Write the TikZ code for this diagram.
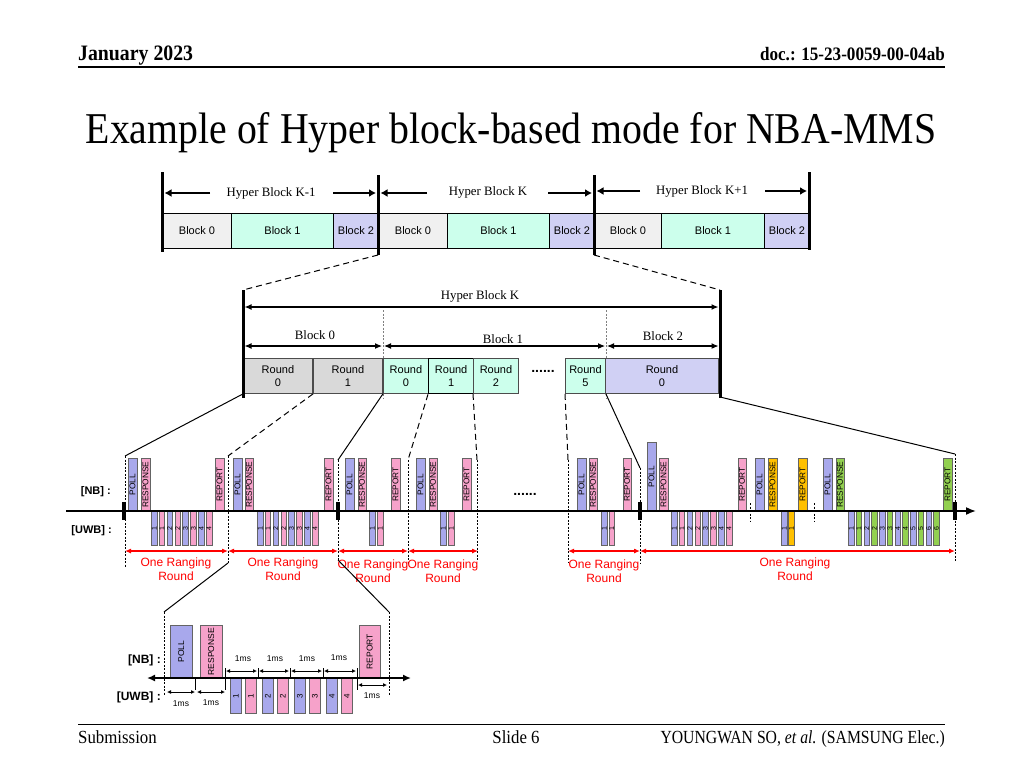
\documentclass[tikz,border=0pt]{standalone}
\usepackage{fontspec}
\setmainfont{Liberation Serif}
\setsansfont{Liberation Sans}
\usetikzlibrary{arrows.meta}
\definecolor{cpoll}{RGB}{168,168,236}
\definecolor{cpink}{RGB}{246,162,202}
\definecolor{cyel}{RGB}{255,192,0}
\definecolor{cgrn}{RGB}{146,208,80}
\definecolor{cb0}{RGB}{240,240,240}
\definecolor{cb1}{RGB}{204,255,236}
\definecolor{cb2}{RGB}{208,208,244}
\definecolor{crg}{RGB}{217,217,217}
\definecolor{cbord}{RGB}{100,100,100}
\definecolor{cred}{RGB}{255,0,0}
\newcommand\myfs[2]{\fontsize{#1}{#2}\selectfont}
\newcommand\nbb[5]{%
  \node[nbbox,fill=#4,minimum height={(511-#3)*1pt}] (#1) at (#2,511) {};
  \node[nbtxt] at (#1.center) {#5};}
\newcommand\uwbgrp[5]{%
  \foreach \k in {0,...,#3}{%
    \pgfmathsetmacro\uwx{#2+\k*#5}%
    \pgfmathtruncatemacro\uwl{\k/2+1}%
    \ifodd\k\relax \def\uwc{#4}\else \def\uwc{cpoll}\fi
    \node[uwbbox,fill=\uwc] (#1-\k) at (\uwx,511) {};
    \node[uwbtxt] at (#1-\k.center) {\uwl};
  }}
\begin{document}
\begin{tikzpicture}[x=1pt,y=-1pt,
 tblock/.style={draw=black,line width=0.9pt,anchor=north west,minimum height=35pt,inner sep=0pt,font=\sffamily\myfs{11}{13}},
 rnd/.style={draw=black!70,line width=0.9pt,anchor=north west,minimum height=35pt,inner sep=0pt,align=center,font=\sffamily\myfs{11}{13}},
 serif/.style={inner sep=0pt,font=\myfs{12.8}{14}},
 vbar/.style={line width=3pt},
 harrow/.style={line width=2.6pt,-{Latex[length=7pt,width=8pt]}},
 darrow/.style={line width=1.3pt,{Latex[length=7pt,width=6pt]}-{Latex[length=7pt,width=6pt]}},
 cdash/.style={line width=1pt,dash pattern=on 6pt off 4pt},
 csolid/.style={line width=1pt},
 vdash/.style={line width=0.6pt,dash pattern=on 2pt off 1.5pt},
 gdash/.style={line width=0.6pt,dash pattern=on 2pt off 1.5pt,black!50},
 nbbox/.style={draw=cbord,line width=0.6pt,inner sep=0pt,anchor=south west,minimum width=8.5pt},
 nbtxt/.style={rotate=90,inner sep=0pt,font=\sffamily\myfs{8.3}{9}},
 uwbbox/.style={draw=cbord,line width=0.6pt,inner sep=0pt,anchor=north west,minimum width=5.6pt,minimum height=34pt},
 uwbtxt/.style={rotate=90,inner sep=0pt,font=\sffamily\myfs{7}{8}},
 tmark/.style={fill=black,inner sep=0pt,minimum width=4pt,minimum height=18pt},
 rarr/.style={cred,line width=1.1pt,{Latex[length=6pt,width=5pt]}-{Latex[length=6pt,width=5pt]}},
 rtxt/.style={text=cred,align=center,inner sep=0pt,font=\sffamily\myfs{12}{13.5}},
 lab/.style={inner sep=0pt,font=\sffamily\bfseries\myfs{11}{13},anchor=east},
 msarr/.style={line width=0.9pt,{Latex[length=4pt,width=4pt]}-{Latex[length=4pt,width=4pt]}},
 mstxt/.style={inner sep=0pt,font=\sffamily\myfs{8.5}{9}},
 tk/.style={line width=0.6pt},
]
\useasboundingbox (0,0) rectangle (1024,768);

% ---------- header / title / footer
\node[inner sep=0pt,anchor=base west,font=\bfseries\myfs{22}{24},xscale=.9] (hd1) at (78,60) {January 2023};
\node[inner sep=0pt,anchor=base east,font=\bfseries\myfs{19}{22},xscale=.9] (hd2) at (945,60) {doc.: 15-23-0059-00-04ab};
\coordinate (hl0) at (78,67); \coordinate (hl1) at (945,67);
\draw[line width=1.5pt] (hl0) -- (hl1);
\node[inner sep=0pt,anchor=base,font=\myfs{44}{50},xscale=.904] (title) at (511,143) {Example of Hyper block-based mode for NBA-MMS};
\coordinate (fl0) at (78,724); \coordinate (fl1) at (945,724);
\draw[line width=1pt] (fl0) -- (fl1);
\node[inner sep=0pt,anchor=base west,font=\myfs{18.5}{20},xscale=.91] (ft1) at (78,743) {Submission};
\node[inner sep=0pt,anchor=base,font=\myfs{18.5}{20},xscale=.91] (ft2) at (516,743) {Slide 6};
\node[inner sep=0pt,anchor=base east,font=\myfs{18.5}{20},xscale=.85] (ft3) at (945,743) {YOUNGWAN SO, \textit{et al.} (SAMSUNG Elec.)};

% ---------- top row of hyper blocks
\node[tblock,fill=cb0,minimum width=69pt] (ta0) at (162,213) {Block 0};
\node[tblock,fill=cb1,minimum width=102pt] (ta1) at (231,213) {Block 1};
\node[tblock,fill=cb2,minimum width=45pt] (ta2) at (333,213) {Block 2};
\node[tblock,fill=cb0,minimum width=69pt] (tb0) at (378,213) {Block 0};
\node[tblock,fill=cb1,minimum width=102pt] (tb1) at (447,213) {Block 1};
\node[tblock,fill=cb2,minimum width=45pt] (tb2) at (549,213) {Block 2};
\node[tblock,fill=cb0,minimum width=67pt] (tc0) at (594,213) {Block 0};
\node[tblock,fill=cb1,minimum width=103pt] (tc1) at (661,213) {Block 1};
\node[tblock,fill=cb2,minimum width=45pt] (tc2) at (764,213) {Block 2};
\coordinate (tv1t) at (162,172); \coordinate (tv1b) at (162,252);
\coordinate (tv2t) at (378,175); \coordinate (tv2b) at (378,255);
\coordinate (tv3t) at (594,175); \coordinate (tv3b) at (594,255);
\coordinate (tv4t) at (809,172); \coordinate (tv4b) at (809,250);
\draw[vbar] (tv1t) -- (tv1b);
\draw[vbar] (tv2t) -- (tv2b);
\draw[vbar] (tv3t) -- (tv3b);
\draw[vbar] (tv4t) -- (tv4b);
\node[serif] (hk1) at (271,193) {Hyper Block K-1};
\node[serif] (hk) at (488,192) {Hyper Block K};
\node[serif] (hk2) at (702,191) {Hyper Block K+1};
\coordinate (a1s) at (210,193); \coordinate (a1e) at (164.5,193);
\coordinate (a2s) at (333,193); \coordinate (a2e) at (376,193);
\coordinate (a3s) at (427,193); \coordinate (a3e) at (380.5,193);
\coordinate (a4s) at (548,193); \coordinate (a4e) at (592,193);
\coordinate (a5s) at (640,191); \coordinate (a5e) at (596.5,191);
\coordinate (a6s) at (765,191); \coordinate (a6e) at (807,191);
\draw[harrow] (a1s) -- (a1e);
\draw[harrow] (a2s) -- (a2e);
\draw[harrow] (a3s) -- (a3e);
\draw[harrow] (a4s) -- (a4e);
\draw[harrow] (a5s) -- (a5e);
\draw[harrow] (a6s) -- (a6e);

% ---------- middle: hyper block K detail
\coordinate (mv1t) at (243,290); \coordinate (mv1b) at (243,398);
\coordinate (mv2t) at (720,290); \coordinate (mv2b) at (720,398);
\draw[cdash] (tv2b) -- (mv1t);
\draw[cdash] (tv3b) -- (mv2t);
\coordinate (gd1t) at (383,310); \coordinate (gd1b) at (383,398);
\coordinate (gd2t) at (606,310); \coordinate (gd2b) at (606,398);
\draw[gdash] (gd1t) -- (gd1b);
\draw[gdash] (gd2t) -- (gd2b);
\node[serif] (mhk) at (480,296) {Hyper Block K};
\coordinate (mh0) at (244.5,307); \coordinate (mh1) at (718.5,307);
\draw[darrow] (mh0) -- (mh1);
\node[serif] (mb0) at (315,335) {Block 0};
\node[serif] (mb1) at (503,339) {Block 1};
\node[serif] (mb2) at (663,336) {Block 2};
\coordinate (bb0) at (244.5,346); \coordinate (bb1) at (382,346);
\coordinate (bb2) at (384,346); \coordinate (bb3) at (605,346);
\coordinate (bb4) at (607,346); \coordinate (bb5) at (718.5,346);
\draw[darrow,line width=1.1pt] (bb0) -- (bb1);
\draw[darrow,line width=1.1pt] (bb2) -- (bb3);
\draw[darrow,line width=1.1pt] (bb4) -- (bb5);
\node[rnd,fill=crg,minimum width=69pt] (r0) at (243,358) {Round\\0};
\node[rnd,fill=crg,minimum width=69pt] (r1) at (313,358) {Round\\1};
\node[rnd,fill=cb1,minimum width=45pt] (r2) at (383,358) {Round\\0};
\node[rnd,fill=cb1,minimum width=45pt,draw=black,line width=1.3pt] (r3) at (428,358) {Round\\1};
\node[rnd,fill=cb1,minimum width=45pt] (r4) at (473,358) {Round\\2};
\node[inner sep=0pt,font=\sffamily\bfseries\myfs{14}{14}] (mdots) at (543,371) {......};
\node[rnd,fill=cb1,minimum width=40pt] (r5) at (565,358) {Round\\5};
\node[rnd,fill=cb2,minimum width=113pt] (r6) at (605,358) {Round\\0};
\draw[vbar] (mv1t) -- (mv1b);
\draw[vbar] (mv2t) -- (mv2b);

% ---------- connectors to the timeline
\coordinate (c1) at (125,456); \coordinate (c1b) at (125,567);
\coordinate (c2) at (228,456); \coordinate (c2b) at (228,563);
\coordinate (c3) at (338,460); \coordinate (c3b) at (338,560);
\coordinate (c4) at (408,460); \coordinate (c4b) at (408,565);
\coordinate (c5) at (477,460); \coordinate (c5b) at (477,560);
\coordinate (c6) at (568,460); \coordinate (c6b) at (568,563);
\coordinate (c7) at (640,468); \coordinate (c7b) at (640,563);
\coordinate (c8) at (955,454); \coordinate (c8b) at (955,562);
\coordinate (r6c) at (720,397);
\draw[csolid] (r0.south west) -- (c1);
\draw[cdash] (r1.south west) -- (c2);
\draw[csolid] (r1.south east) -- (c3);
\draw[cdash] (r3.south west) -- (c4);
\draw[cdash] (r4.south west) -- (c5);
\draw[cdash] (r5.south west) -- (c6);
\draw[csolid] (r5.south east) -- (c7);
\draw[csolid] (r6c) -- (c8);
\foreach \c in {1,...,8}{\draw[vdash] (c\c) -- (c\c b);}
\coordinate (sd1t) at (750,503); \coordinate (sd1b) at (750,521);
\coordinate (sd2t) at (814,503); \coordinate (sd2b) at (814,521);
\draw[vdash] (sd1t) -- (sd1b);
\draw[vdash] (sd2t) -- (sd2b);

% ---------- NB / UWB packets
\nbb{pa}{128}{459}{cpoll}{POLL}
\nbb{sa}{141}{459}{cpink}{RESPONSE}
\uwbgrp{ua}{151}{7}{cpink}{7.85}
\nbb{ra}{215}{459}{cpink}{REPORT}
\nbb{pb}{233}{459}{cpoll}{POLL}
\nbb{sb}{244.5}{459}{cpink}{RESPONSE}
\uwbgrp{ub}{257}{7}{cpink}{7.85}
\nbb{rb}{324}{459}{cpink}{REPORT}
\nbb{pc}{345}{459}{cpoll}{POLL}
\nbb{sc}{357.5}{459}{cpink}{RESPONSE}
\uwbgrp{uc}{369}{1}{cpink}{8}
\nbb{rc}{391}{459}{cpink}{REPORT}
\nbb{pd}{416}{459}{cpoll}{POLL}
\nbb{sd}{428.5}{459}{cpink}{RESPONSE}
\uwbgrp{ud}{440}{1}{cpink}{8}
\nbb{rd}{462}{459}{cpink}{REPORT}
\node[inner sep=0pt,font=\sffamily\bfseries\myfs{14}{14}] (tdots) at (525,494) {......};
\nbb{pe}{577}{459}{cpoll}{POLL}
\nbb{se}{588.5}{459}{cpink}{RESPONSE}
\uwbgrp{ue}{601}{1}{cpink}{7.5}
\nbb{re}{622.5}{459}{cpink}{REPORT}
\nbb{pf}{647}{443}{cpoll}{POLL}
\nbb{sf}{659}{459}{cpink}{RESPONSE}
\uwbgrp{uf}{671}{7}{cpink}{7.85}
\nbb{rf}{737.5}{459}{cpink}{REPORT}
\nbb{pg}{755}{459}{cpoll}{POLL}
\nbb{sg}{768}{459}{cyel}{RESPONSE}
\uwbgrp{ug}{781}{1}{cyel}{7.3}
\nbb{rg}{798}{459}{cyel}{REPORT}
\nbb{ph}{823}{459}{cpoll}{POLL}
\nbb{sh}{835.5}{459}{cgrn}{RESPONSE}
\uwbgrp{uh}{848}{11}{cgrn}{7.75}
\nbb{rh}{943}{459}{cgrn}{REPORT}

% ---------- main timeline
\coordinate (tl0) at (66,511); \coordinate (tl1) at (976,511);
\draw[line width=1.6pt,-{Latex[length=10pt,width=8pt]}] (tl0) -- (tl1);
\node[tmark] (mk1) at (124,511) {};
\node[tmark] (mk2) at (338,511) {};
\node[tmark] (mk3) at (640,511) {};
\node[tmark] (mk4) at (955,511) {};
\node[lab] (nbl) at (111,492) {[NB] :};
\node[lab] (uwl) at (112,531) {[UWB] :};

% ---------- ranging rounds
\coordinate (g1) at (125,551); \coordinate (g2) at (228,551);
\coordinate (g3) at (338,551); \coordinate (g4) at (408,551);
\coordinate (g5) at (478,551); \coordinate (g6) at (568,551);
\coordinate (g7) at (640,551); \coordinate (g8) at (955,551);
\draw[rarr] (g1) -- (g2);
\draw[rarr] (g2) -- (g3);
\draw[rarr] (g3) -- (g4);
\draw[rarr] (g4) -- (g5);
\draw[rarr] (g6) -- (g7);
\draw[rarr] (g7) -- (g8);
\node[rtxt] (t1) at (176,569) {One Ranging\\Round};
\node[rtxt] (t2) at (283,569) {One Ranging\\Round};
\node[rtxt] (t3) at (373,571) {One Ranging\\Round};
\node[rtxt] (t4) at (443,571) {One Ranging\\Round};
\node[rtxt] (t5) at (604,571) {One Ranging\\Round};
\node[rtxt] (t6) at (795,569) {One Ranging\\Round};

% ---------- bottom zoom of one ranging round
\coordinate (z1) at (164,612); \coordinate (z1b) at (164,695);
\coordinate (z2) at (389,612); \coordinate (z2b) at (389,695);
\draw[csolid] (c2b) -- (z1);
\draw[csolid] (c3b) -- (z2);
\draw[vdash] (z1) -- (z1b);
\draw[vdash] (z2) -- (z2b);
\node[nbbox,fill=cpoll,minimum width=22pt,minimum height=52pt] (bp) at (170,678) {};
\node[nbtxt,font=\sffamily\myfs{8.5}{9}] at (bp.center) {POLL};
\node[nbbox,fill=cpink,minimum width=22pt,minimum height=52pt] (bs) at (200,678) {};
\node[nbtxt,font=\sffamily\myfs{8.5}{9}] at (bs.center) {RESPONSE};
\node[nbbox,fill=cpink,minimum width=21pt,minimum height=52pt] (br) at (359,678) {};
\node[nbtxt,font=\sffamily\myfs{8.5}{9}] at (br.center) {REPORT};
\foreach \x/\c/\l/\i in {230/cpoll/1/1,245/cpink/1/2,262/cpoll/2/3,277/cpink/2/4,294/cpoll/3/5,309/cpink/3/6,326/cpoll/4/7,341/cpink/4/8}{
  \node[uwbbox,fill=\c,minimum width=11pt,minimum height=35pt] (bu\i) at (\x,678) {};
  \node[uwbtxt,font=\sffamily\myfs{8}{9}] at (bu\i.center) {\l};
}
\coordinate (bl0) at (147,678); \coordinate (bl1) at (411,678);
\draw[line width=1.6pt,{Latex[length=8pt,width=7pt]}-{Latex[length=8pt,width=7pt]}] (bl0) -- (bl1);
\node[lab,font=\sffamily\bfseries\myfs{12}{13}] (bnb) at (161,660) {[NB] :};
\node[lab,font=\sffamily\bfseries\myfs{12}{13}] (buw) at (161,697) {[UWB] :};
% ticks
\coordinate (k1a) at (195,678); \coordinate (k1b) at (195,690);
\coordinate (k2a) at (225,668); \coordinate (k2b) at (225,690);
\coordinate (k3a) at (258,668); \coordinate (k3b) at (258,678);
\coordinate (k4a) at (290,668); \coordinate (k4b) at (290,678);
\coordinate (k5a) at (323,668); \coordinate (k5b) at (323,678);
\coordinate (k6a) at (357,668); \coordinate (k6b) at (357,690);
\foreach \k in {1,...,6}{\draw[tk] (k\k a) -- (k\k b);}
% 1ms arrows
\coordinate (m1a) at (167,692); \coordinate (m1b) at (195,692);
\coordinate (m2a) at (197,692); \coordinate (m2b) at (225,692);
\coordinate (m3a) at (226,671); \coordinate (m3b) at (257,671);
\coordinate (m4a) at (259,671); \coordinate (m4b) at (289,671);
\coordinate (m5a) at (291,671); \coordinate (m5b) at (322,671);
\coordinate (m6a) at (324,671); \coordinate (m6b) at (356,671);
\coordinate (m7a) at (358,685); \coordinate (m7b) at (387,685);
\foreach \k in {1,...,7}{\draw[msarr] (m\k a) -- (m\k b);}
\node[mstxt] (ms1) at (181,704) {1ms};
\node[mstxt] (ms2) at (211,703) {1ms};
\node[mstxt] (ms3) at (243,659) {1ms};
\node[mstxt] (ms4) at (275,659) {1ms};
\node[mstxt] (ms5) at (307,659) {1ms};
\node[mstxt] (ms6) at (339,658) {1ms};
\node[mstxt] (ms7) at (372,696) {1ms};
\end{tikzpicture}
\end{document}
